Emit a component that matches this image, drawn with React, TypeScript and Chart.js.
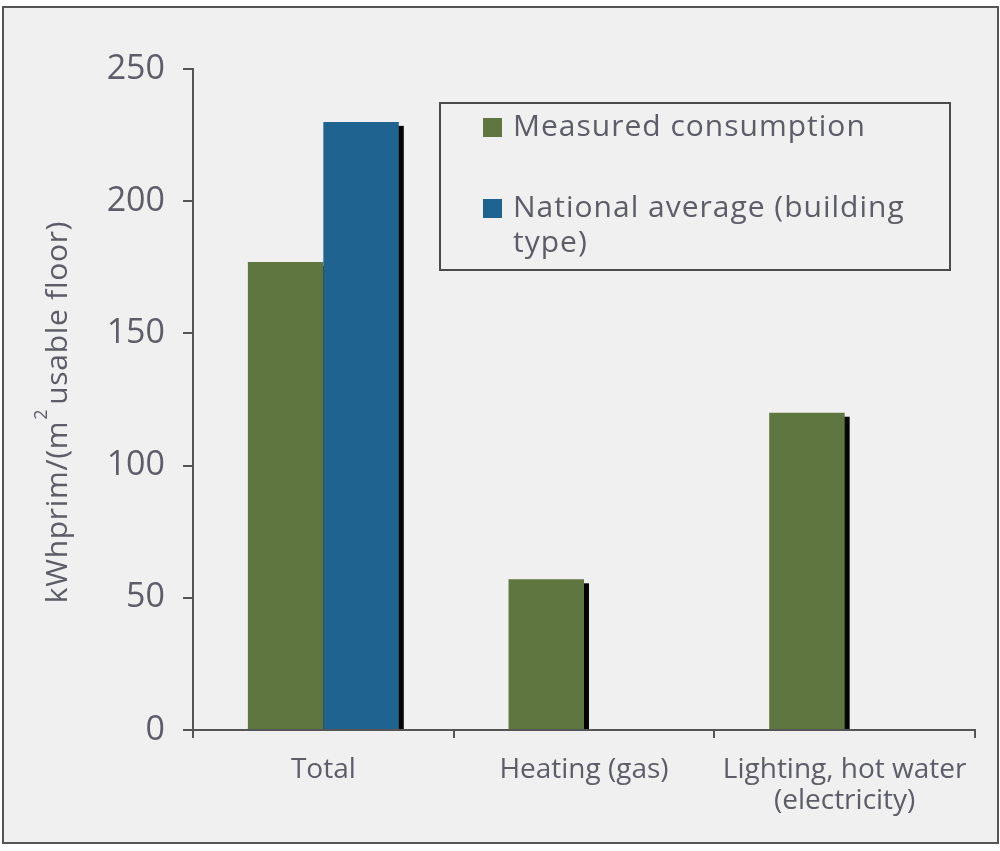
import React, { useEffect, useRef } from "react";
import { Chart, registerables } from "chart.js";

Chart.register(...registerables);

// ---- data ----
const categories: (string | string[])[] = [
  "Total",
  "Heating (gas)",
  ["Lighting, hot water", "(electricity)"],
];
const measuredConsumption: (number | null)[] = [177, 57, 120];
const nationalAverage: (number | null)[] = [230, null, null];
const seriesNames = ["Measured consumption", "National average (building type)"];
const legendLines: string[][] = [["Measured consumption"], ["National average (building", "type)"]];
const yTickValues = [0, 50, 100, 150, 200, 250];
const yTitleParts = ["kWhprim/(m", "2", "usable floor)"];

const GREEN = "#5f7641";
const BLUE = "#1f6490";
const TEXT = "#5c5d66";
const FONT = "'Open Sans', sans-serif";

const framePlugin = {
  id: "frame",
  beforeDraw(chart: any) {
    const ctx = chart.ctx;
    ctx.save();
    ctx.fillStyle = "#ffffff";
    ctx.fillRect(0, 0, chart.width, chart.height);
    ctx.fillStyle = "#f0f0f0";
    ctx.fillRect(3, 7, 995, 836);
    ctx.strokeStyle = "#555555";
    ctx.lineWidth = 2;
    ctx.strokeRect(3, 7, 995, 836);
    ctx.restore();
  },
};

const shadowPlugin = {
  id: "barShadow",
  beforeDatasetsDraw(chart: any) {
    const ctx = chart.ctx;
    ctx.save();
    ctx.fillStyle = "#050505";
    chart.data.datasets.forEach((ds: any, i: number) => {
      const meta = chart.getDatasetMeta(i);
      meta.data.forEach((el: any, j: number) => {
        if (ds.data[j] == null) return;
        const p = el.getProps(["x", "y", "base", "width"], true);
        ctx.fillRect(p.x - p.width / 2 + 5, p.y + 4, p.width, p.base - p.y - 4);
      });
    });
    ctx.restore();
  },
};

const annotatePlugin = {
  id: "annot",
  afterDraw(chart: any) {
    const ctx = chart.ctx;
    const area = chart.chartArea;
    // legend box
    ctx.save();
    ctx.strokeStyle = "#4a4a4a";
    ctx.lineWidth = 2;
    ctx.strokeRect(440, 103, 510, 167);
    const colors = chart.data.datasets.map((d: any) => d.backgroundColor);
    const rows = [[127], [208, 243]];
    ctx.font = `30px ${FONT}`;
    (ctx as any).letterSpacing = "1px";
    ctx.textBaseline = "middle";
    ctx.textAlign = "left";
    legendLines.forEach((lines, i) => {
      ctx.fillStyle = colors[i];
      ctx.fillRect(483, rows[i][0] - 9, 19, 19);
      ctx.fillStyle = "#1a1a1a";
      ctx.lineWidth = 1;
      ctx.fillStyle = TEXT;
      lines.forEach((t, k) => ctx.fillText(t, 513, rows[i][k]));
    });
    ctx.restore();

    // y axis title
    ctx.save();
    const cy = (area.top + area.bottom) / 2 + 13;
    ctx.translate(67, cy);
    ctx.rotate(-Math.PI / 2);
    ctx.fillStyle = TEXT;
    ctx.textBaseline = "alphabetic";
    ctx.textAlign = "left";
    (ctx as any).letterSpacing = "0.7px";
    ctx.font = `30px ${FONT}`;
    const w1 = ctx.measureText(yTitleParts[0]).width;
    const w3 = ctx.measureText(yTitleParts[2]).width;
    ctx.font = `18px ${FONT}`;
    const w2 = ctx.measureText(yTitleParts[1]).width + 4;
    const total = w1 + w2 + w3;
    let x = -total / 2;
    ctx.font = `30px ${FONT}`;
    ctx.fillText(yTitleParts[0], x, 0);
    x += w1 + 1;
    ctx.font = `18px ${FONT}`;
    ctx.fillText(yTitleParts[1], x, -20);
    x += w2;
    ctx.font = `30px ${FONT}`;
    ctx.fillText(yTitleParts[2], x, 0);
    ctx.restore();
  },
};

export default function App() {
  const ref = useRef<HTMLCanvasElement | null>(null);
  useEffect(() => {
    if (!ref.current) return;
    const chart = new Chart(ref.current, {
      type: "bar",
      data: {
        labels: categories as any,
        datasets: [
          {
            label: seriesNames[0],
            data: measuredConsumption,
            backgroundColor: GREEN,
            borderWidth: 0,
            categoryPercentage: 0.579,
            barPercentage: 1,
          },
          {
            label: seriesNames[1],
            data: nationalAverage,
            backgroundColor: BLUE,
            borderWidth: 0,
            categoryPercentage: 0.579,
            barPercentage: 1,
          },
        ],
      },
      options: {
        responsive: false,
        animation: false,
        devicePixelRatio: 1,
        layout: { padding: { top: 69, right: 25, bottom: 0, left: 0 } },
        plugins: { legend: { display: false }, tooltip: { enabled: false } },
        scales: {
          x: {
            afterFit: (s: any) => {
              s.height = 121;
            },
            grid: {
              display: true,
              offset: true,
              drawOnChartArea: false,
              drawTicks: true,
              tickLength: 8,
              color: "#555",
              lineWidth: 2,
            },
            border: { display: true, color: "#555", width: 2 },
            ticks: {
              color: TEXT,
              font: { family: FONT, size: 28, lineHeight: 1.1 },
              padding: 17,
              maxRotation: 0,
              autoSkip: false,
            },
          },
          y: {
            min: 0,
            max: 250,
            afterFit: (s: any) => {
              s.width = 193;
            },
            afterBuildTicks: (s: any) => {
              s.ticks = yTickValues.map((v) => ({ value: v }));
            },
            grid: {
              display: true,
              drawOnChartArea: false,
              drawTicks: true,
              tickLength: 10,
              color: "#555",
              lineWidth: 2,
            },
            border: { display: true, color: "#555", width: 2 },
            ticks: {
              color: TEXT,
              font: { family: FONT, size: 34 },
              padding: 18,
            },
          },
        },
      },
      plugins: [framePlugin, shadowPlugin, annotatePlugin],
    });
    return () => chart.destroy();
  }, []);
  return (
    <div style={{ position: "fixed", left: 0, top: 0, width: 1000, height: 851 }}>
      <canvas ref={ref} width={1000} height={851} style={{ display: "block" }} />
    </div>
  );
}
